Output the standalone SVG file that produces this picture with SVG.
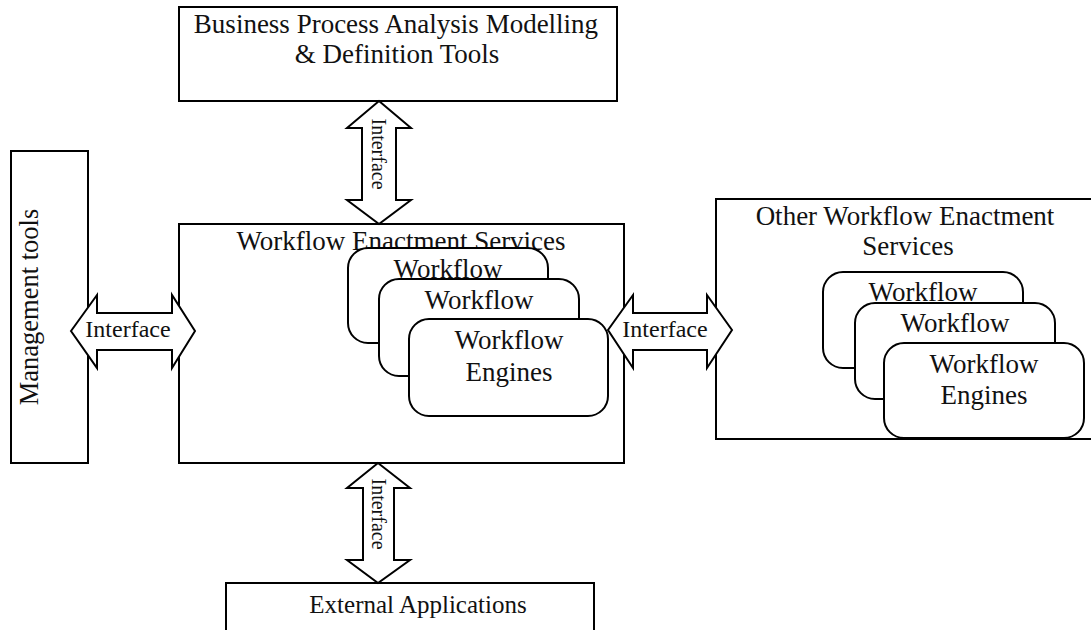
<svg xmlns="http://www.w3.org/2000/svg" width="1091" height="630" viewBox="0 0 1091 630">
<style>
.box{fill:#fff;stroke:#000;stroke-width:2}
.rr{fill:#fff;stroke:#000;stroke-width:2}
.arr{fill:#fff;stroke:#000;stroke-width:2;stroke-linejoin:miter}
text{font-family:"Liberation Serif","Times New Roman",serif;fill:#111}
.t26{font-size:27px;text-anchor:middle}
.t24{font-size:24px;text-anchor:middle}
.t20{font-size:20px;text-anchor:middle}
</style>
<rect width="1091" height="630" fill="#fff"/>
<g id="bpa">
<rect class="box" x="179" y="7" width="438" height="94"/>
<text class="t26" x="396" y="33">Business Process Analysis Modelling</text>
<text class="t26" x="397" y="63">&amp; Definition Tools</text>
</g>
<g id="mgmt">
<rect class="box" x="11" y="151" width="77" height="312"/>
<text x="38" y="307" transform="rotate(-90 38 307)" style="font-size:26.5px;text-anchor:middle">Management tools</text>
</g>
<g id="wes">
<rect class="box" x="179" y="224" width="445" height="239"/>
<text class="t26" x="401" y="250">Workflow Enactment Services</text>
<rect class="rr" x="348" y="248" width="200" height="95" rx="20"/>
<text class="t26" x="448" y="278">Workflow</text>
<rect class="rr" x="379" y="279" width="200" height="97" rx="20"/>
<text class="t26" x="479" y="309">Workflow</text>
<rect class="rr" x="409" y="319" width="199" height="97" rx="20"/>
<text class="t26" x="509" y="349">Workflow</text>
<text class="t26" x="509" y="381">Engines</text>
</g>
<g id="owes">
<rect class="box" x="716" y="199" width="380" height="240"/>
<text class="t26" x="905" y="225">Other Workflow Enactment</text>
<text class="t26" x="908" y="255">Services</text>
<rect class="rr" x="823" y="272" width="200" height="96" rx="20"/>
<text class="t26" x="923" y="301">Workflow</text>
<rect class="rr" x="855" y="303" width="200" height="96" rx="20"/>
<text class="t26" x="955" y="332">Workflow</text>
<rect class="rr" x="884" y="343" width="200" height="95" rx="20"/>
<text class="t26" x="984" y="373">Workflow</text>
<text class="t26" x="984" y="404">Engines</text>
</g>
<g id="ext">
<rect class="box" x="226" y="583" width="368" height="60"/>
<text x="418" y="613" style="font-size:25px;text-anchor:middle">External Applications</text>
</g>
<g id="connectors">
<polygon class="arr" points="379,101 411,128 396,128 396,200 411,200 379,224 347,200 362,200 362,128 347,128"/>
<text class="t20" x="372" y="154" transform="rotate(90 372 154)">Interface</text>
<polygon class="arr" points="378,463 410,488 394,488 394,560 410,560 378,583 347,560 363,560 363,488 347,488"/>
<text class="t20" x="372" y="514" transform="rotate(90 372 514)">Interface</text>
<polygon class="arr" points="71,331 97,295 97,313 172,313 172,295 195,331 172,368 172,350 97,350 97,368"/>
<text class="t24" x="128" y="337">Interface</text>
<polygon class="arr" points="608,330 633,295 633,313 707,313 707,295 732,330 707,368 707,350 633,350 633,368"/>
<text class="t24" x="665" y="337">Interface</text>
</g>
</svg>
